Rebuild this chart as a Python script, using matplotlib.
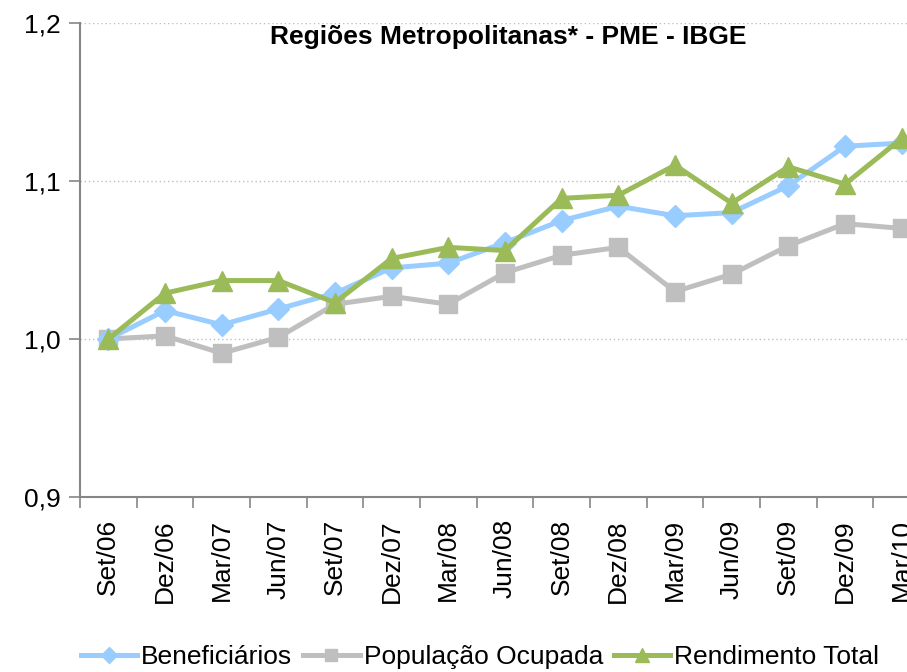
import matplotlib
matplotlib.use("Agg")
import matplotlib.pyplot as plt
import numpy as np

categories = ["Set/06", "Dez/06", "Mar/07", "Jun/07", "Set/07", "Dez/07", "Mar/08",
              "Jun/08", "Set/08", "Dez/08", "Mar/09", "Jun/09", "Set/09", "Dez/09", "Mar/10"]
beneficiarios = [1.000, 1.018, 1.009, 1.019, 1.029, 1.045, 1.048, 1.061, 1.075, 1.084,
                 1.078, 1.080, 1.097, 1.122, 1.124]
populacao = [1.000, 1.002, 0.991, 1.001, 1.022, 1.027, 1.022, 1.042, 1.053, 1.058,
             1.030, 1.041, 1.059, 1.073, 1.070]
rendimento = [1.000, 1.029, 1.037, 1.037, 1.023, 1.051, 1.058, 1.056, 1.089, 1.091,
              1.110, 1.086, 1.109, 1.098, 1.127]
yticks = [0.9, 1.0, 1.1, 1.2]
ytick_labels = ["0,9", "1,0", "1,1", "1,2"]

plt.rcParams['font.family'] = ['Liberation Sans', 'DejaVu Sans']

fig = plt.figure(figsize=(9.07, 6.72), dpi=100)
ax = fig.add_axes([80/907, 1-497/672, 850/907, (497-23)/672])

x = np.arange(len(categories))
ax.plot(x, beneficiarios, color="#99CCFF", lw=3.6, marker="D", ms=11.5, label="Beneficiários", zorder=3)
ax.plot(x, populacao, color="#BFBFBF", lw=3.6, marker="s", ms=13, label="População Ocupada", zorder=2)
ax.plot(x, rendimento, color="#9BBB59", lw=3.6, marker="^", ms=14, label="Rendimento Total", zorder=4)

ax.set_xlim(-0.5, len(categories) - 0.5)
ax.set_ylim(0.9, 1.2)
ax.set_yticks(yticks)
ax.set_yticklabels(ytick_labels, fontsize=19)
ax.yaxis.grid(True, linestyle=(0, (1, 2)), color="#BFBFBF", lw=1)
ax.set_axisbelow(True)

ax.set_xticks(x)
ax.set_xticklabels(categories, rotation=90, fontsize=19)
ax.set_xticks(np.arange(-0.5, len(categories)), minor=True)
ax.tick_params(axis="x", which="major", length=0, pad=16)
ax.tick_params(axis="x", which="minor", length=8, color="#868686", width=1.2)
ax.tick_params(axis="y", length=8, color="#868686", width=1.2, pad=6)

for s in ["top", "right"]:
    ax.spines[s].set_visible(False)
for s in ["left", "bottom"]:
    ax.spines[s].set_color("#868686")
    ax.spines[s].set_linewidth(1.5)

fig.text(508/907, 1-37/672, "Regiões Metropolitanas* - PME - IBGE", ha="center", va="center",
         fontsize=19, fontweight="bold")

fig.legend(loc="center", bbox_to_anchor=(480/907, 1-657/672), ncol=3, frameon=False,
           fontsize=19, handlelength=2.15, handletextpad=0.15, columnspacing=0.4,
           markerscale=0.7)

fig.savefig("out.png", dpi=100)
